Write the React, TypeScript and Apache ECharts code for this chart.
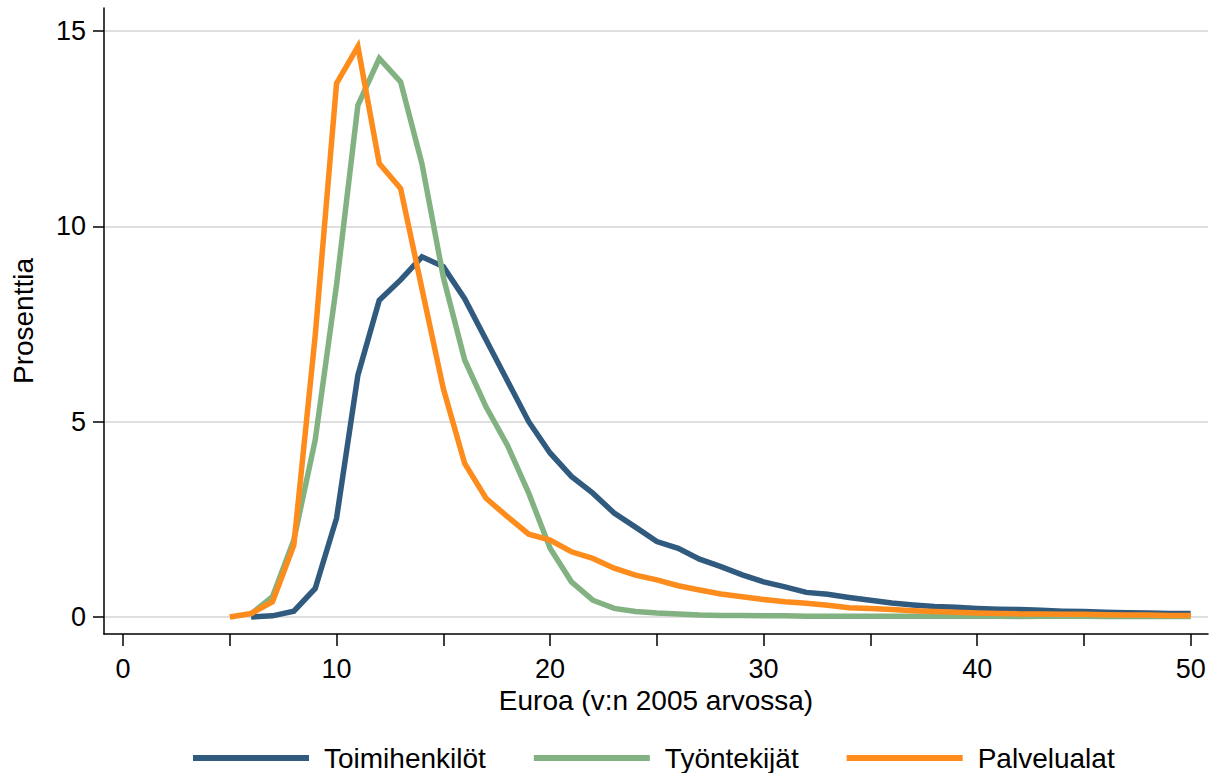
import React, { useEffect, useRef } from "react";
import * as echarts from "echarts";

const euroValues = [5, 6, 7, 8, 9, 10, 11, 12, 13, 14, 15, 16, 17, 18, 19, 20, 21, 22, 23, 24, 25, 26, 27, 28, 29, 30, 31, 32, 33, 34, 35, 36, 37, 38, 39, 40, 41, 42, 43, 44, 45, 46, 47, 48, 49, 50];

const toimihenkilot = [null, 0.0, 0.03, 0.15, 0.73, 2.53, 6.19, 8.11, 8.63, 9.22, 8.97, 8.15, 7.1, 6.05, 5.0, 4.2, 3.6, 3.17, 2.66, 2.3, 1.93, 1.76, 1.48, 1.29, 1.08, 0.9, 0.77, 0.63, 0.58, 0.5, 0.43, 0.36, 0.31, 0.27, 0.25, 0.22, 0.2, 0.19, 0.17, 0.15, 0.14, 0.12, 0.11, 0.1, 0.09, 0.09];

const tyontekijat = [null, 0.08, 0.52, 1.97, 4.53, 8.5, 13.1, 14.3, 13.7, 11.6, 8.7, 6.58, 5.38, 4.4, 3.17, 1.76, 0.9, 0.43, 0.22, 0.14, 0.1, 0.08, 0.05, 0.04, 0.04, 0.03, 0.03, 0.02, 0.02, 0.02, 0.02, 0.02, 0.02, 0.02, 0.02, 0.02, 0.02, 0.01, 0.02, 0.02, 0.02, 0.01, 0.01, 0.01, 0.01, 0.01];

const palvelualat = [0.0, 0.09, 0.39, 1.84, 7.2, 13.66, 14.6, 11.61, 10.97, 8.4, 5.85, 3.93, 3.04, 2.57, 2.12, 1.97, 1.67, 1.5, 1.25, 1.07, 0.95, 0.8, 0.69, 0.59, 0.52, 0.45, 0.39, 0.35, 0.3, 0.24, 0.22, 0.19, 0.16, 0.14, 0.12, 0.1, 0.09, 0.08, 0.08, 0.07, 0.07, 0.06, 0.05, 0.05, 0.04, 0.04];

const xTicks = [0, 5, 10, 15, 20, 25, 30, 35, 40, 45, 50];
const xLabels = [0, 10, 20, 30, 40, 50];
const yTicks = [0, 5, 10, 15];

const seriesNames = ["Toimihenkilöt", "Työntekijät", "Palvelualat"];
const seriesColors = ["#315A7F", "#83B282", "#FD8C1C"];

const FONT = "'Liberation Sans', Arial, sans-serif";

function toPairs(values: (number | null)[]) {
  return euroValues.map((x, i) => [x, values[i]]);
}

export default function App() {
  const ref = useRef<HTMLDivElement>(null);
  useEffect(() => {
    if (!ref.current) return;
    const chart = echarts.init(ref.current, undefined, { renderer: "svg" });
    const allData = [toimihenkilot, tyontekijat, palvelualat];
    chart.setOption({
      animation: false,
      backgroundColor: "#ffffff",
      textStyle: { fontFamily: FONT, color: "#000" },
      grid: { left: 104, right: 1, top: 8, bottom: 139, containLabel: false },
      legend: {
        left: 188,
        top: 739,
        icon: "rect",
        itemWidth: 116,
        itemHeight: 6,
        itemGap: 48,
        textStyle: { fontSize: 28, color: "#000", fontFamily: FONT, padding: [0, 0, 0, 10] },
        data: seriesNames,
      },
      xAxis: {
        type: "value",
        min: -0.89,
        max: 50.81,
        name: "Euroa (v:n 2005 arvossa)",
        nameLocation: "middle",
        nameGap: 50,
        nameTextStyle: { fontSize: 28, color: "#000", fontFamily: FONT },
        axisLine: { onZero: false, lineStyle: { color: "#000", width: 1.5 } },
        axisTick: { show: true, length: 12, customValues: xTicks, lineStyle: { color: "#000", width: 1.5 } },
        axisLabel: { customValues: xLabels, fontSize: 27, color: "#000", margin: 21, fontFamily: FONT },
        splitLine: { show: false },
      },
      yAxis: {
        type: "value",
        min: -0.435,
        max: 15.59,
        name: "Prosenttia",
        nameLocation: "middle",
        nameGap: 67,
        nameTextStyle: { fontSize: 28, color: "#000", fontFamily: FONT },
        axisLine: { show: true, onZero: false, lineStyle: { color: "#000", width: 1.5 } },
        axisTick: { show: true, length: 11, customValues: yTicks, lineStyle: { color: "#000", width: 1.5 } },
        axisLabel: { customValues: yTicks, fontSize: 27, color: "#000", margin: 18, fontFamily: FONT },
        splitLine: { show: true, lineStyle: { color: "#D4D4D4", width: 1.5 } },
      },
      series: seriesNames.map((name, i) => ({
        name,
        type: "line",
        data: toPairs(allData[i]),
        showSymbol: false,
        symbol: "none",
        connectNulls: false,
        color: seriesColors[i],
        itemStyle: { color: seriesColors[i] },
        lineStyle: { color: seriesColors[i], width: 5.5, join: "miter" },
        z: 2 + i,
      })),
    });
    return () => chart.dispose();
  }, []);
  return (
    <div
      ref={ref}
      style={{ position: "fixed", left: 0, top: 0, width: 1209, height: 773 }}
    />
  );
}
